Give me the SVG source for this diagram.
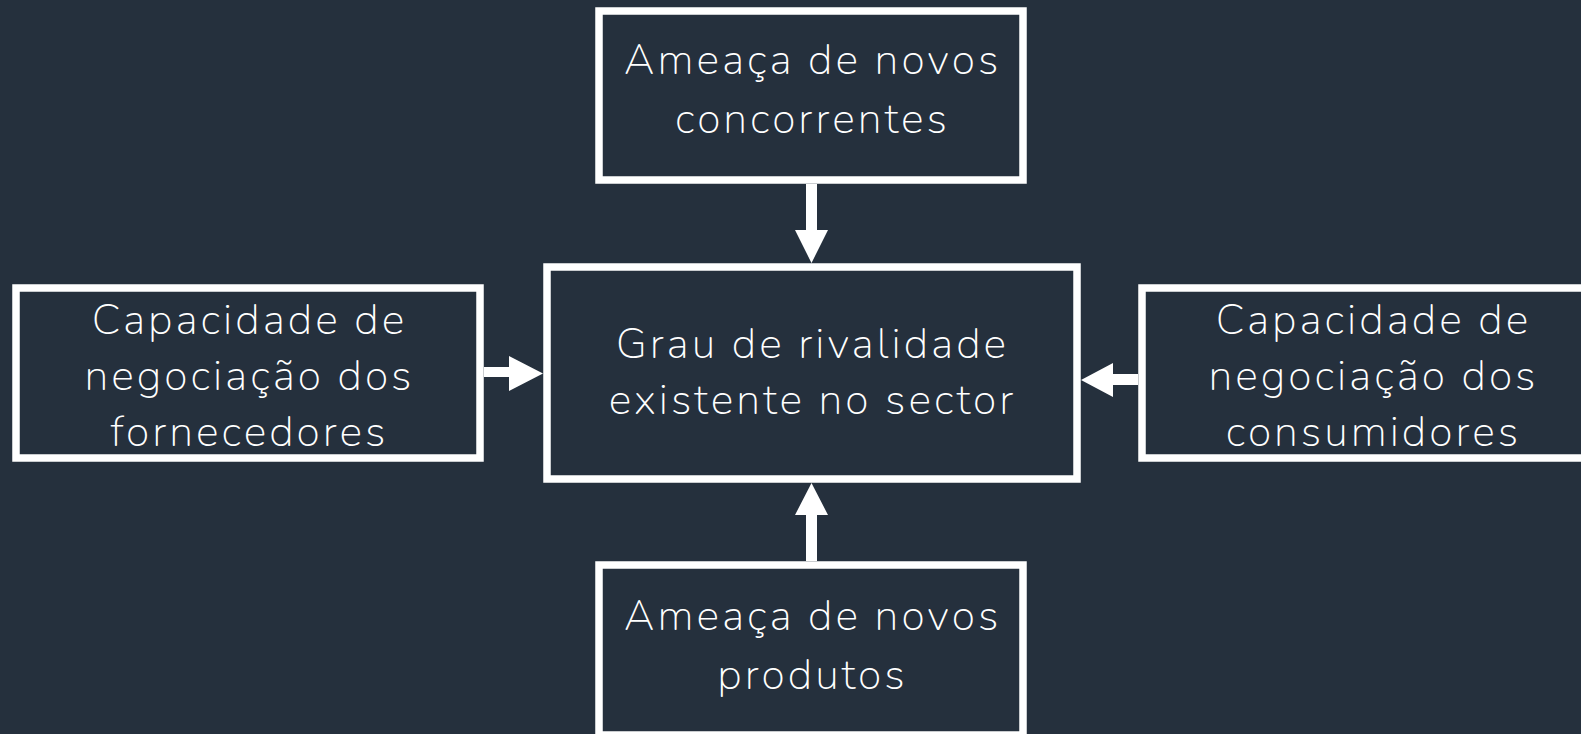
<svg xmlns="http://www.w3.org/2000/svg" width="1581" height="734" viewBox="0 0 1581 734">
<style>
.box{fill:#25303d;stroke:#ffffff;stroke-width:7.5}
.t{font-family:"Nunito","Lato","Open Sans",sans-serif;font-weight:200;font-size:43px;letter-spacing:3px;fill:#ffffff;text-anchor:middle}
.arr{fill:#ffffff}
</style>
<rect x="0" y="0" width="1581" height="734" fill="#25303d"/>
<g id="connectors">
<path class="arr" d="M806 184 L817 184 L817 230 L828 230 L811.5 263 L795 230 L806 230 Z"/>
<path class="arr" d="M806 561 L817 561 L817 515 L828 515 L811.5 483 L795 515 L806 515 Z"/>
<path class="arr" d="M484 367 L509 367 L509 356 L543 373.5 L509 391 L509 377 L484 377 Z"/>
<path class="arr" d="M1138 374 L1113 374 L1113 363 L1081 380 L1113 397 L1113 385 L1138 385 Z"/>
</g>
<g id="node-top">
<rect class="box" x="599" y="11" width="424" height="169"/>
<text class="t" x="812.5" y="74">Ameaça de novos</text>
<text class="t" x="812.5" y="133">concorrentes</text>
</g>
<g id="node-center">
<rect class="box" x="547" y="267" width="530" height="212"/>
<text class="t" x="812.5" y="358">Grau de rivalidade</text>
<text class="t" x="812.5" y="414">existente no sector</text>
</g>
<g id="node-left">
<rect class="box" x="16" y="288" width="464" height="170"/>
<text class="t" x="249.5" y="334">Capacidade de</text>
<text class="t" x="249.5" y="390">negociação dos</text>
<text class="t" x="249.5" y="446">fornecedores</text>
</g>
<g id="node-right">
<rect class="box" x="1142" y="288" width="464" height="170"/>
<text class="t" x="1373.5" y="334">Capacidade de</text>
<text class="t" x="1373.5" y="390">negociação dos</text>
<text class="t" x="1373.5" y="446">consumidores</text>
</g>
<g id="node-bottom">
<rect class="box" x="599" y="565" width="424" height="170"/>
<text class="t" x="812.5" y="630">Ameaça de novos</text>
<text class="t" x="812.5" y="689">produtos</text>
</g>
</svg>
